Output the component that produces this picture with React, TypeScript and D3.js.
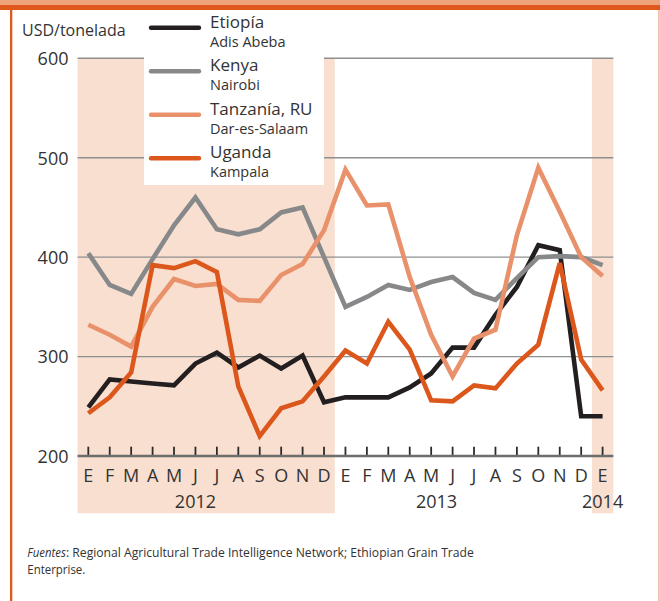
import React, { useLayoutEffect, useRef, useState } from "react";
import * as d3 from "d3";

const months = ["E","F","M","A","M","J","J","A","S","O","N","D","E","F","M","A","M","J","J","A","S","O","N","D","E"];
const years = [
  { label: "2012", pos: 5 },
  { label: "2013", pos: 16.25 },
  { label: "2014", pos: 24 },
];
const yTicks = [200, 300, 400, 500, 600];

const etiopia = [249,277,275,273,271,293,304,289,301,288,301,254,259,259,259,269,283,309,309,342,370,412,407,240,240];
const kenya = [404,372,363,398,432,460,428,423,428,445,450,400,350,360,372,367,375,380,364,357,379,400,401,400,392];
const tanzania = [332,322,310,350,378,371,373,357,356,382,393,427,488,452,453,380,322,280,318,327,422,490,446,400,381];
const uganda = [243,259,284,392,389,396,385,270,220,248,255,280,306,293,335,307,256,255,271,268,293,312,394,297,266];

const seriesNames = ["Etiopía", "Kenya", "Tanzanía, RU", "Uganda"];
const seriesCities = ["Adis Abeba", "Nairobi", "Dar-es-Salaam", "Kampala"];
const seriesColors = ["#231f20", "#87888a", "#e8916a", "#dc571c"];
const seriesData = [etiopia, kenya, tanzania, uganda];

const FONT = "'Open Sans', 'Noto Sans', sans-serif";
const TEXT = "#333333";

function FitText(props: { x: number; y: number; width: number; italic?: boolean; children: string }) {
  const ref = useRef<SVGTextElement>(null);
  const [s, setS] = useState(1);
  useLayoutEffect(() => {
    if (ref.current) {
      const len = ref.current.getComputedTextLength();
      if (len > 0) setS(props.width / len);
    }
  }, [props.width, props.children]);
  return (
    <text
      ref={ref}
      transform={`translate(${props.x},${props.y}) scale(${s},1)`}
      x={0}
      y={0}
      fontFamily={FONT}
      fontSize={12.7}
      fontStyle={props.italic ? "italic" : "normal"}
      fill={TEXT}
    >
      {props.children}
    </text>
  );
}

export default function App() {
  const W = 660, H = 601;
  const x = d3.scaleLinear().domain([0, 24]).range([88.3, 602.6]);
  const y = d3.scaleLinear().domain([200, 600]).range([456, 58.3]);
  const line = d3.line<number>().x((_, i) => x(i)).y((d) => y(d));
  const left = x(-0.5), right = x(24.5);

  return (
    <div style={{ position: "absolute", left: 0, top: 0 }}>
      <svg width={W} height={H} style={{ display: "block" }}>
        <rect x={0} y={0} width={W} height={H} fill="#ffffff" />
        {/* frame */}
        <rect x={0} y={0} width={W} height={5} fill="#eea37b" />
        <rect x={0} y={5} width={W} height={5} fill="#e0571c" />
        <rect x={10} y={10} width={2.3} height={H - 10} fill="#e0571c" />
        <rect x={658.3} y={10} width={1.2} height={H - 10} fill="#e9a585" />

        {/* shaded years */}
        <rect x={left} y={y(600)} width={x(11.5) - left} height={513.3 - y(600)} fill="#f9dfcf" />
        <rect x={x(23.5)} y={y(600)} width={right - x(23.5)} height={513.3 - y(600)} fill="#f9dfcf" />

        {/* grid */}
        {yTicks.slice(1).map((t) => (
          <line key={t} x1={left} x2={right} y1={y(t)} y2={y(t)} stroke="#8f8f8f" strokeWidth={1.4} />
        ))}
        {yTicks.map((t) => (
          <text key={"l" + t} x={68.5} y={y(t) + 6.8} textAnchor="end" fontFamily={FONT} fontSize={18} fill={TEXT}>{t}</text>
        ))}

        {/* axis */}
        {months.map((m, i) => (
          <line key={"t" + i} x1={x(i)} x2={x(i)} y1={446.7} y2={456} stroke="#2b2b2b" strokeWidth={1.8} />
        ))}
        <line x1={left} x2={right} y1={y(200)} y2={y(200)} stroke="#6d6d6d" strokeWidth={2.4} />
        {months.map((m, i) => (
          <text key={"m" + i} x={x(i)} y={481.7} textAnchor="middle" fontFamily={FONT} fontSize={18} fill={TEXT}>{m}</text>
        ))}
        {years.map((yr) => (
          <text key={yr.label} x={x(yr.pos)} y={507.7} textAnchor="middle" fontFamily={FONT} fontSize={18} fill={TEXT}>{yr.label}</text>
        ))}

        {/* series */}
        {seriesData.map((d, k) => (
          <path key={"s" + k} d={line(d) || ""} fill="none" stroke={seriesColors[k]} strokeWidth={4.6} strokeLinejoin="miter" strokeMiterlimit={4} />
        ))}

        {/* legend */}
        <rect x={144} y={10} width={180} height={175} fill="#ffffff" />
        {seriesNames.map((n, k) => {
          const base = 27.7 + k * 43.5;
          return (
            <g key={"lg" + k}>
              <line x1={151} x2={199} y1={base} y2={base} stroke={seriesColors[k]} strokeWidth={4.4} strokeLinecap="round" />
              <text x={210} y={base} fontFamily={FONT} fontSize={17} fill={TEXT}>{n}</text>
              <text x={210} y={base + 19} fontFamily={FONT} fontSize={14.5} fill={TEXT}>{seriesCities[k]}</text>
            </g>
          );
        })}

        <text x={22} y={36} fontFamily={FONT} fontSize={16} fill={TEXT}>USD/tonelada</text>

        {/* source */}
        <FitText x={27.3} y={556.7} width={38.5} italic>Fuentes</FitText>
        <FitText x={66} y={556.7} width={408}>: Regional Agricultural Trade Intelligence Network; Ethiopian Grain Trade</FitText>
        <FitText x={27.3} y={574} width={58}>Enterprise.</FitText>
      </svg>
    </div>
  );
}
